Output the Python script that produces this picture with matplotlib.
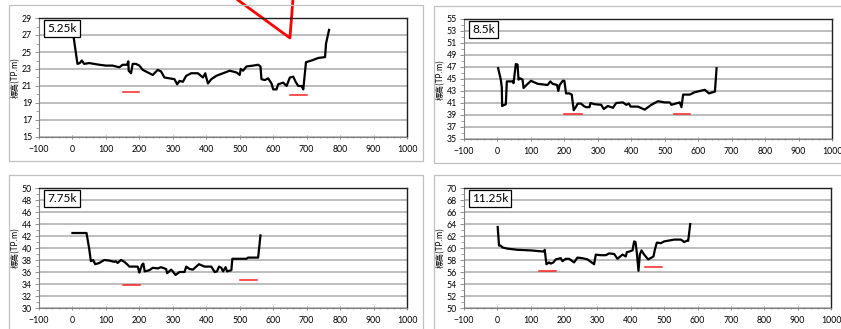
import matplotlib
matplotlib.use("Agg")
import matplotlib.pyplot as plt
from matplotlib.patches import Rectangle

plt.rcParams['font.family'] = ['Lato', 'Noto Sans CJK JP', 'DejaVu Sans']

# ---- data ----
# 5.25k
x_525 = [3, 8, 15, 22, 28, 35, 50, 80, 100, 120, 140, 150, 163, 167, 168, 175, 180, 190, 200,
         210, 225, 240, 255, 265, 275, 290, 305, 313, 320, 330, 340, 355, 375, 390, 397, 400,
         405, 415, 430, 450, 470, 490, 500, 503, 510, 520, 540, 555, 562, 565, 575, 585, 595,
         600, 610, 615, 630, 640, 650, 660, 667, 675, 685, 690, 698, 715, 735, 755, 758, 767]
z_525 = [26.9, 25.5, 23.6, 23.7, 24.0, 23.6, 23.7, 23.5, 23.4, 23.4, 23.2, 23.5, 23.5, 23.9, 22.8,
         22.5, 23.6, 23.6, 23.4, 22.9, 22.6, 22.3, 22.9, 22.7, 22.0, 21.9, 21.8, 21.2, 21.6, 21.5,
         22.2, 22.5, 22.5, 22.0, 22.5, 22.0, 21.3, 21.8, 22.2, 22.5, 22.8, 22.6, 22.3, 23.0, 22.8,
         23.3, 23.4, 23.5, 23.3, 21.8, 21.7, 21.9, 21.3, 20.6, 20.6, 21.2, 21.4, 21.0, 22.0, 22.1,
         21.5, 21.0, 21.0, 20.6, 23.8, 24.0, 24.3, 24.4, 26.0, 27.6]
red_525 = [([150, 200], 20.3), ([650, 700], 19.9)]

# 8.5k
x_85 = [2, 10, 13, 14, 25, 28, 45, 48, 55, 60, 63, 68, 75, 78, 85, 100, 120, 150, 158, 165, 178,
        182, 186, 195, 200, 205, 215, 222, 228, 235, 240, 250, 258, 265, 275, 278, 290, 310, 318,
        330, 345, 355, 375, 385, 393, 398, 420, 440, 460, 480, 500, 515, 520, 545, 550, 555, 575,
        590, 620, 632, 650, 655]
z_85 = [46.8, 44.9, 43.6, 40.5, 40.8, 44.6, 44.6, 44.3, 47.5, 47.4, 44.9, 45.1, 44.9, 43.5, 43.9,
        44.7, 44.2, 44.0, 44.6, 44.2, 44.0, 43.0, 44.0, 44.7, 44.7, 42.6, 42.6, 42.4, 39.8, 40.4,
        40.9, 40.9, 40.5, 40.3, 40.3, 41.0, 40.8, 40.7, 40.0, 40.5, 40.2, 41.0, 41.1, 40.7, 40.9,
        40.4, 40.4, 39.9, 40.7, 41.3, 41.1, 41.1, 40.7, 41.1, 40.3, 42.4, 42.4, 42.8, 43.2, 42.6,
        42.9, 46.8]
red_85 = [([200, 252], 39.2), ([527, 577], 39.2)]

# 7.75k
x_775 = [0, 42, 50, 55, 62, 68, 80, 95, 110, 125, 130, 135, 145, 155, 165, 170, 195, 200, 208,
         212, 216, 230, 240, 255, 265, 280, 283, 295, 300, 308, 320, 335, 340, 350, 360, 378, 395,
         415, 425, 432, 438, 445, 450, 458, 462, 475, 478, 520, 525, 555, 562]
z_775 = [42.5, 42.5, 39.9, 37.8, 38.0, 37.3, 37.5, 38.0, 37.9, 37.7, 37.8, 37.5, 38.0, 37.7, 37.2,
         36.9, 36.9, 35.9, 37.2, 37.4, 36.1, 36.3, 36.7, 36.6, 36.8, 36.5, 35.8, 36.4, 36.1, 35.5,
         36.0, 36.0, 36.9, 36.5, 36.4, 37.3, 36.9, 36.9, 36.0, 36.1, 36.9, 36.7, 36.1, 36.8, 36.1,
         36.3, 38.2, 38.2, 38.4, 38.4, 42.1]
red_775 = [([150, 202], 33.9), ([500, 552], 34.75)]

# 11.25k
x_1125 = [1, 5, 10, 15, 30, 60, 100, 140, 142, 147, 155, 160, 168, 175, 190, 195, 205, 215, 225,
          230, 240, 255, 270, 285, 290, 295, 310, 325, 335, 350, 360, 375, 385, 388, 395, 405, 410,
          414, 418, 423, 427, 432, 440, 452, 462, 468, 472, 478, 490, 500, 510, 530, 550, 560, 568,
          572, 578]
z_1125 = [63.5, 60.4, 60.4, 60.1, 59.9, 59.7, 59.6, 59.4, 59.7, 57.3, 57.6, 57.4, 57.6, 58.1, 58.3,
          57.8, 58.2, 58.2, 57.8, 57.6, 58.4, 58.3, 58.1, 57.5, 57.3, 58.9, 58.8, 58.8, 59.1, 59.0,
          58.2, 58.9, 58.6, 59.3, 59.4, 59.6, 61.1, 61.0, 59.2, 56.2, 58.9, 59.6, 58.9, 58.1, 58.4,
          58.6, 59.7, 60.9, 60.8, 61.1, 61.2, 61.4, 61.4, 61.0, 61.2, 61.2, 64.0]
red_1125 = [([125, 177], 56.1), ([442, 492], 56.9)]

# callout (red V) in 5.25k data units
callout_x = [495, 650, 659]
callout_y = [31.1, 26.65, 31.1]

W, H = 841, 329
fig = plt.figure(figsize=(W / 100, H / 100), dpi=100)


def px_axes(l, t, r, b):
    return fig.add_axes([l / W, 1 - b / H, (r - l) / W, (b - t) / H])


# chart area frames
for (l, t, r, b) in [(9, 5, 423, 161), (434, 6, 850, 163), (9, 175, 423, 340), (434, 175, 850, 340)]:
    fig.patches.append(Rectangle((l / W, 1 - b / H), (r - l) / W, (b - t) / H,
                                 transform=fig.transFigure, fill=False,
                                 edgecolor='#c0c0c0', linewidth=0.9))

panels = [
    ((39, 18, 407, 137), x_525, z_525, red_525, (15, 29), "5.25k"),
    ((464, 19, 832, 139), x_85, z_85, red_85, (35, 55), "8.5k"),
    ((39, 188, 407, 308), x_775, z_775, red_775, (30, 50), "7.75k"),
    ((464, 188, 831, 308), x_1125, z_1125, red_1125, (50, 70), "11.25k"),
]

axes = []
for rect, xs, zs, reds, (y0, y1), name in panels:
    ax = px_axes(*rect)
    ax.set_xlim(-100, 1000)
    ax.set_ylim(y0, y1)
    ax.set_xticks(range(-100, 1001, 100))
    ax.set_xticks(range(-100, 1001, 20), minor=True)
    ax.set_yticks(range(y0, y1 + 1, 2))
    ax.set_yticks(range(y0, y1 + 1, 1), minor=True)
    ax.yaxis.grid(True, color='#ababab', linewidth=1.1)
    ax.set_axisbelow(True)
    ax.tick_params(labelsize=6.3, length=3, width=0.6, color='#808080', pad=2)
    ax.tick_params(which='minor', length=2, width=0.5, color='#808080')
    ax.tick_params(axis='x', which='both', direction='inout', pad=4)
    for s in ['left', 'bottom']:
        ax.spines[s].set_color('#808080')
        ax.spines[s].set_linewidth(0.8)
    for s in ['top', 'right']:
        ax.spines[s].set_color('#202020')
        ax.spines[s].set_linewidth(1.0)
    ax.plot(xs, zs, color='black', linewidth=1.6, solid_joinstyle='round')
    for seg_x, seg_y in reds:
        ax.plot(seg_x, [seg_y, seg_y], color='#ff2020', linewidth=1.1)
    ax.text(0.022, 0.96, name, transform=ax.transAxes, ha='left', va='top', fontsize=8.6,
            bbox=dict(boxstyle='square,pad=0.25', facecolor='white', edgecolor='black', linewidth=0.9))
    ax.set_ylabel('標高(TP.m)', fontsize=5.8, labelpad=1,
                  family=['Noto Sans CJK JP', 'DejaVu Sans'])
    axes.append(ax)

axes[0].plot(callout_x, callout_y, color='#ff0000', linewidth=2.0, clip_on=False)

fig.savefig('out.png', dpi=100)
